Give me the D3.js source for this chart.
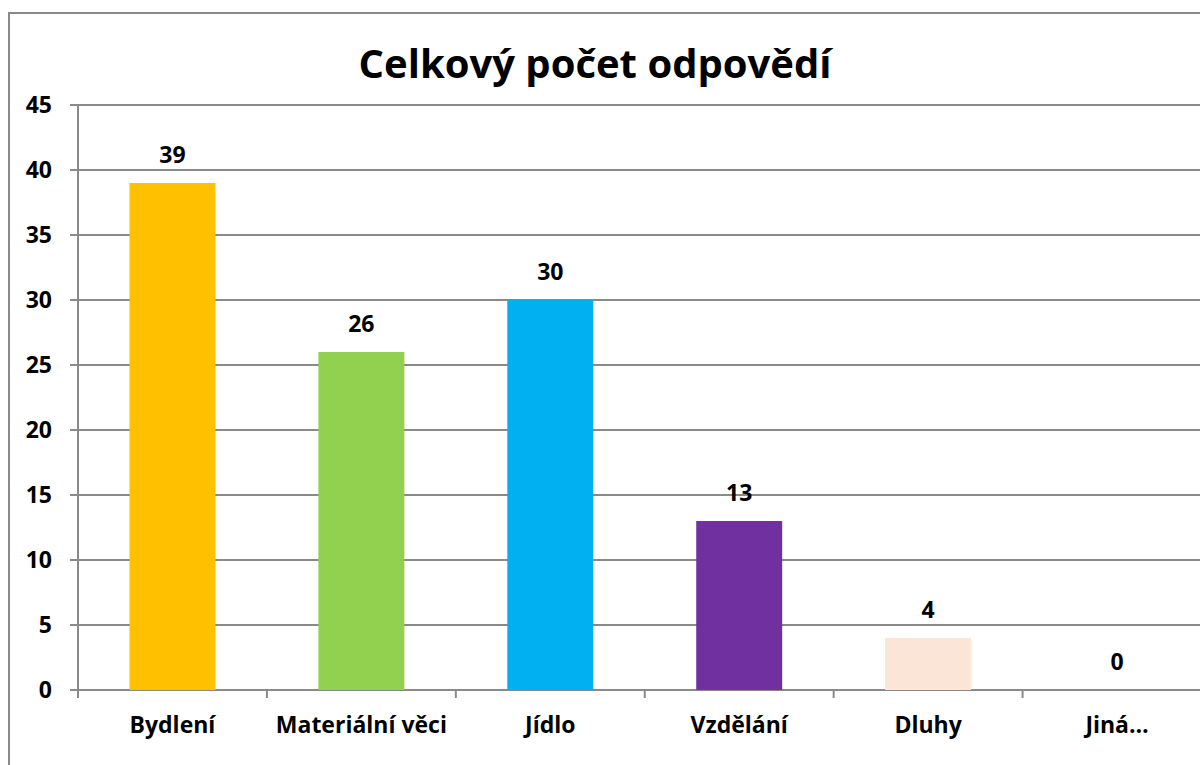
<!DOCTYPE html>
<html>
<head>
<meta charset="utf-8">
<script src="https://cdn.jsdelivr.net/npm/d3@7"></script>
<style>
	html, body {
		margin: 0;
		padding: 0;
		background: #ffffff;
		overflow: hidden;
	}

	text {
		font-family: "Open Sans", Lato, sans-serif;
		font-weight: 700;
		fill: #000000;
	}
</style>
</head>
<body>
<div id="chart"></div>
<script>
	const TITLE = "Celkový počet odpovědí";
	const CATEGORIES = ["Bydlení", "Materiální věci", "Jídlo", "Vzdělání", "Dluhy", "Jiná…"];
	const VALUES = [39, 26, 30, 13, 4, 0];
	const COLORS = ["#ffc000", "#92d050", "#00b0f0", "#7030a0", "#fbe5d6", "#c0504d"];
	const Y_TICKS = [0, 5, 10, 15, 20, 25, 30, 35, 40, 45];

	const width = 1200;
	const height = 765;
	const plot = {left: 78, top: 105, bottom: 690, right: 1211.5};
	const gridColor = "#8a8a8a";
	const labelSize = "23px";

	const svg = d3
		.select("#chart")
		.append("svg")
		.attr("width", width)
		.attr("height", height);

	// Chart frame (cut off on the right and bottom in the original)
	svg
		.append("path")
		.attr("d", `M9,${height + 5}V13H${width + 5}`)
		.attr("fill", "none")
		.attr("stroke", gridColor)
		.attr("stroke-width", 2);

	const x = d3
		.scaleBand()
		.domain(CATEGORIES)
		.range([plot.left, plot.right])
		.paddingInner(0.545)
		.paddingOuter(0.2725);

	const xTicks = d3
		.scaleBand()
		.domain(CATEGORIES)
		.range([plot.left, plot.right]);

	const y = d3.scaleLinear().domain([0, 45]).range([plot.bottom, plot.top]);

	// Gridlines
	svg
		.append("g")
		.selectAll("line")
		.data(Y_TICKS)
		.join("line")
		.attr("x1", plot.left - 8)
		.attr("x2", width + 5)
		.attr("y1", (d) => y(d))
		.attr("y2", (d) => y(d))
		.attr("stroke", gridColor)
		.attr("stroke-width", 2);

	// Y axis line
	svg
		.append("line")
		.attr("x1", plot.left)
		.attr("x2", plot.left)
		.attr("y1", plot.top)
		.attr("y2", plot.bottom + 8)
		.attr("stroke", gridColor)
		.attr("stroke-width", 2);

	// Y tick labels
	svg
		.append("g")
		.selectAll("text")
		.data(Y_TICKS)
		.join("text")
		.attr("x", plot.left - 26)
		.attr("y", (d) => y(d))
		.attr("dy", "0.36em")
		.attr("text-anchor", "end")
		.style("font-size", labelSize)
		.text((d) => d);

	// X ticks between categories
	svg
		.append("g")
		.selectAll("line")
		.data(CATEGORIES.slice(1))
		.join("line")
		.attr("x1", (d) => xTicks(d))
		.attr("x2", (d) => xTicks(d))
		.attr("y1", plot.bottom)
		.attr("y2", plot.bottom + 8)
		.attr("stroke", gridColor)
		.attr("stroke-width", 2);

	// Bars
	svg
		.append("g")
		.selectAll("rect")
		.data(CATEGORIES)
		.join("rect")
		.attr("x", (d) => x(d))
		.attr("width", x.bandwidth())
		.attr("y", (d, i) => y(VALUES[i]))
		.attr("height", (d, i) => y(0) - y(VALUES[i]))
		.attr("fill", (d, i) => COLORS[i]);

	// Value labels
	svg
		.append("g")
		.selectAll("text")
		.data(CATEGORIES)
		.join("text")
		.attr("x", (d) => x(d) + x.bandwidth() / 2)
		.attr("y", (d, i) => y(VALUES[i]) - 20)
		.attr("text-anchor", "middle")
		.style("font-size", labelSize)
		.text((d, i) => VALUES[i]);

	// Category labels
	svg
		.append("g")
		.selectAll("text")
		.data(CATEGORIES)
		.join("text")
		.attr("x", (d) => x(d) + x.bandwidth() / 2)
		.attr("y", 733)
		.attr("text-anchor", "middle")
		.style("font-size", labelSize)
		.text((d) => d);

	// Title
	svg
		.append("text")
		.attr("x", 595)
		.attr("y", 78)
		.attr("text-anchor", "middle")
		.style("font-size", "40px")
		.text(TITLE);
</script>
</body>
</html>
